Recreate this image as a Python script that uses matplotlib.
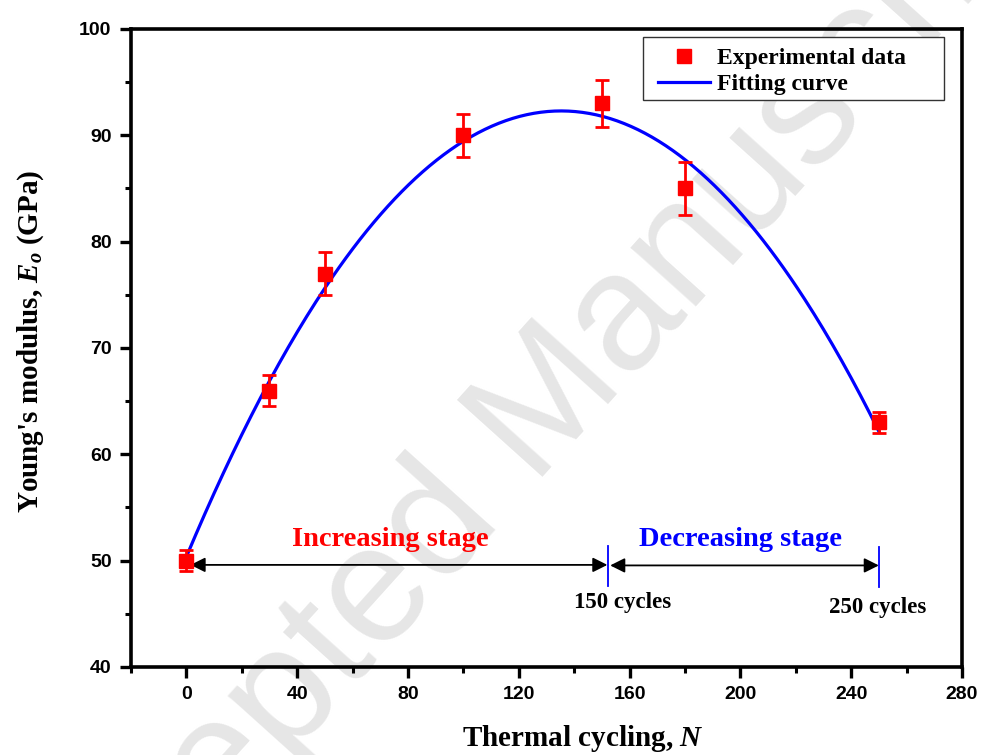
import numpy as np
import matplotlib
matplotlib.use('Agg')
import matplotlib.pyplot as plt
from matplotlib.patches import Rectangle

plt.rcParams['mathtext.fontset'] = 'custom'
plt.rcParams['mathtext.rm'] = 'Liberation Serif:bold'
plt.rcParams['mathtext.bf'] = 'Liberation Serif:bold'
plt.rcParams['mathtext.it'] = 'Liberation Serif:bold:italic'

cycles = [0, 30, 50, 100, 150, 180, 250]
modulus = [50.0, 66.0, 77.0, 90.0, 93.0, 85.0, 63.0]
modulus_err = [1.0, 1.5, 2.0, 2.0, 2.2, 2.5, 1.0]

x_ticks = [0, 40, 80, 120, 160, 200, 240, 280]
y_ticks = [40, 50, 60, 70, 80, 90, 100]

serif = 'Liberation Serif'
sans = 'Liberation Sans'

fig = plt.figure(figsize=(9.84, 7.55), dpi=100)
ax = fig.add_axes([0.1331, 0.1166, 0.8445, 0.845])

# watermark, behind everything
ax.text(0.535, 0.43, 'Accepted Manuscript', fontsize=120, family=sans,
        color='#e6e6e6', rotation=48, rotation_mode='anchor',
        ha='center', va='center', transform=fig.transFigure,
        zorder=0.1, clip_on=False)

# fitting curve: quadratic fit of the experimental data
coef = np.polyfit(cycles, modulus, 2)
xs = np.linspace(cycles[0], cycles[-1], 300)
ax.plot(xs, np.polyval(coef, xs), color='#0000ff', lw=2.3, label='Fitting curve', zorder=3)

ax.errorbar(cycles, modulus, yerr=modulus_err, fmt='none', ecolor='#ff0000',
            elinewidth=2.0, capsize=5, capthick=2.0, zorder=4)
ax.plot(cycles, modulus, 's', color='#ff0000', ms=9.5, ls='none',
        label='Experimental data', zorder=5)

# stage arrows
ax.annotate('', xy=(1.5, 49.6), xytext=(152, 49.6),
            arrowprops=dict(arrowstyle='<|-|>', color='k', lw=1.3,
                            mutation_scale=22, shrinkA=0, shrinkB=0))
ax.annotate('', xy=(153, 49.55), xytext=(250, 49.55),
            arrowprops=dict(arrowstyle='<|-|>', color='k', lw=1.3,
                            mutation_scale=22, shrinkA=0, shrinkB=0))
ax.plot([152.3, 152.3], [47.6, 51.4], color='#0000ff', lw=1.3)
ax.plot([250.1, 250.1], [47.5, 51.3], color='#0000ff', lw=1.3)

ax.text(73.6, 52.0, 'Increasing stage', color='#ff0000', fontsize=20.5,
        family=serif, weight='bold', ha='center', va='center')
ax.text(200, 52.0, 'Decreasing stage', color='#0000ff', fontsize=20.5,
        family=serif, weight='bold', ha='center', va='center')
ax.text(157.3, 46.1, '150 cycles', fontsize=16.5, family=serif,
        weight='bold', ha='center', va='center')
ax.text(249.7, 45.6, '250 cycles', fontsize=16.5, family=serif,
        weight='bold', ha='center', va='center')

ax.set_xlim(-20, 280)
ax.set_ylim(40, 100)
ax.set_xticks(x_ticks)
ax.set_yticks(y_ticks)
ax.set_xticks(np.arange(-20, 281, 20), minor=True)
ax.set_yticks(np.arange(40, 101, 5), minor=True)

for s in ax.spines.values():
    s.set_linewidth(2.6)
ax.tick_params(which='major', direction='out', length=8, width=2.4, pad=6)
ax.tick_params(which='minor', direction='out', length=4.5, width=2.2)
ax.tick_params(top=False, right=False, which='both')
for lab in ax.get_xticklabels() + ax.get_yticklabels():
    lab.set_family(sans)
    lab.set_weight('bold')
    lab.set_fontsize(14)

ax.set_xlabel('Thermal cycling, $N$', family=serif, weight='bold',
              fontsize=21, labelpad=14)
ax.xaxis.label.set_x(0.544)
ax.set_ylabel("Young's modulus, $E_o$ (GPa)", family=serif, weight='bold',
              fontsize=21, labelpad=24)
ax.yaxis.label.set_y(0.511)

# legend: own frame so the box can be wider than its contents
ax.add_patch(Rectangle((0.616, 0.889), 0.362, 0.098, transform=ax.transAxes,
                       facecolor='white', edgecolor='#333333', lw=1.0, zorder=5.5))
handles, labels = ax.get_legend_handles_labels()
leg = ax.legend(handles[::-1], labels[::-1], loc='upper left',
                bbox_to_anchor=(0.634, 0.971), borderaxespad=0,
                prop={'family': serif, 'weight': 'bold', 'size': 17},
                frameon=False, handlelength=2.2, handletextpad=0.3,
                labelspacing=0.2, borderpad=0)
leg.set_zorder(6)

fig.savefig('out.png', dpi=100)
